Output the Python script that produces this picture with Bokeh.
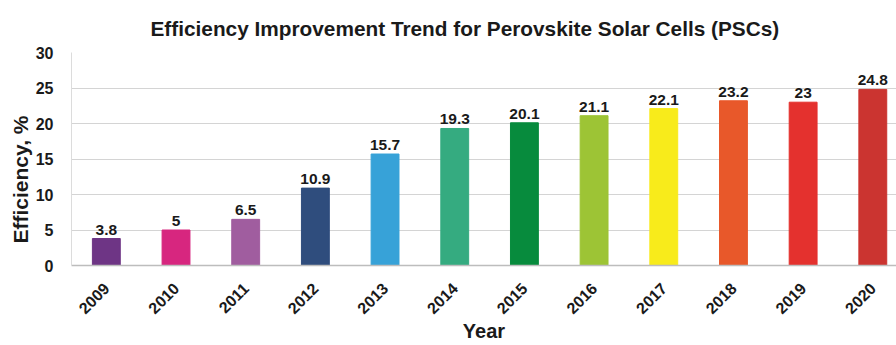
import math
from bokeh.plotting import figure
from bokeh.models import ColumnDataSource, Range1d, FixedTicker, Title
from bokeh.core.properties import value
from bokeh.embed import file_html
from bokeh.resources import INLINE

years = ["2009", "2010", "2011", "2012", "2013", "2014",
         "2015", "2016", "2017", "2018", "2019", "2020"]
efficiency = [3.8, 5, 6.5, 10.9, 15.7, 19.3, 20.1, 21.1, 22.1, 23.2, 23, 24.8]
bar_colors = ["#6e3585", "#d7267f", "#a05d9f", "#2f4d7d", "#37a2d8", "#35ab80",
              "#078b3d", "#9dc435", "#f8eb1b", "#e8582a", "#e4312e", "#cb3430"]
y_ticks = [0, 5, 10, 15, 20, 25, 30]

FONT = "Liberation Sans"
TXT = "#1a1a1a"

x_pos = list(range(1, len(years) + 1))
labels = [("%g" % v) for v in efficiency]
src = ColumnDataSource(dict(x=x_pos, top=efficiency, color=bar_colors, label=labels))

p = figure(width=896, height=345, output_backend="svg", toolbar_location=None,
           x_range=Range1d(0.5, 12.34), y_range=Range1d(0, 30),
           min_border_left=71, min_border_right=0, min_border_top=52,
           min_border_bottom=80)
p.outline_line_color = None
p.background_fill_color = "white"
p.border_fill_color = "white"

p.title.text = "Efficiency Improvement Trend for Perovskite  Solar Cells (PSCs)"
p.title.text_font = FONT
p.title.text_font_size = "20.8px"
p.title.text_font_style = "bold"
p.title.text_color = TXT
p.title.align = "left"
p.title.offset = 79
p.title.standoff = 26

p.vbar(x="x", top="top", width=0.40, bottom=0, color="color", source=src)
p.text(x="x", y="top", text="label", source=src, y_offset=-9,
       text_align="center", text_baseline="alphabetic",
       text_font=value(FONT), text_font_size="15.5px", text_font_style="bold",
       text_color=TXT)

# axes
p.xaxis.ticker = FixedTicker(ticks=x_pos)
p.xaxis.major_label_overrides = {i: y for i, y in zip(x_pos, years)}
p.xaxis.major_label_orientation = math.pi / 4
p.xaxis.major_tick_out = 0
p.xaxis.major_tick_in = 0
p.xaxis.minor_tick_out = 0
p.xaxis.minor_tick_in = 0
p.xaxis.major_label_standoff = 20
p.xaxis.axis_line_color = "#bdbdbd"
p.xaxis.axis_line_width = 1.5
p.xaxis.axis_label = "Year"
p.xaxis.axis_label_text_font = FONT
p.xaxis.axis_label_text_font_size = "20px"
p.xaxis.axis_label_text_font_style = "bold"
p.xaxis.axis_label_text_color = TXT
p.xaxis.axis_label_standoff = -2

p.yaxis.ticker = FixedTicker(ticks=y_ticks)
p.yaxis.major_tick_out = 0
p.yaxis.major_tick_in = 0
p.yaxis.minor_tick_out = 0
p.yaxis.minor_tick_in = 0
p.yaxis.major_label_standoff = 18
p.yaxis.axis_line_color = "#dcdcdc"

for ax in (p.xaxis, p.yaxis):
    ax.major_label_text_font = FONT
    ax.major_label_text_font_size = "16px"
    ax.major_label_text_font_style = "bold"
    ax.major_label_text_color = TXT

p.xgrid.grid_line_color = None
p.ygrid.grid_line_color = "#d4d4d4"
p.ygrid.grid_line_width = 1

# y-axis title as a side title so it can sit below the frame's centre
p.add_layout(Title(text="Efficiency, %", align="left", offset=22, standoff=2,
                   text_font=FONT, text_font_size="21px", text_font_style="bold",
                   text_color=TXT), "left")

open("out.html", "w").write(file_html(p, INLINE))
